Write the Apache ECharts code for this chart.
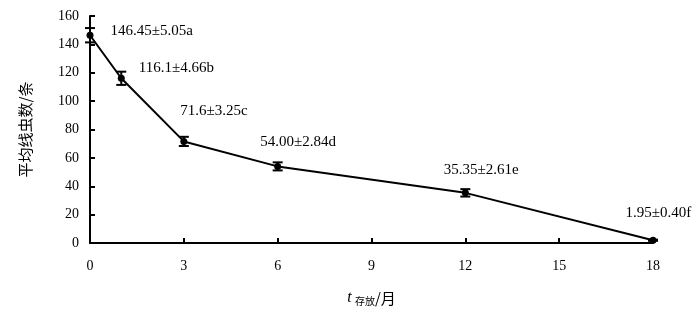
<!DOCTYPE html>
<html>
<head>
<meta charset="utf-8">
<script src="https://cdn.jsdelivr.net/npm/echarts@6/dist/echarts.min.js"></script>
<style>html,body{margin:0;padding:0;background:#fff}#c{width:700px;height:314px}</style>
</head>
<body>
<div id="c"></div>
<script>
var months = [0, 1, 3, 6, 12, 18];
var means = [146.45, 116.1, 71.6, 54.00, 35.35, 1.95];
var sds = [5.05, 4.66, 3.25, 2.84, 2.61, 0.40];
var letters = ['a', 'b', 'c', 'd', 'e', 'f'];
var meanText = ['146.45', '116.1', '71.6', '54.00', '35.35', '1.95'];
var sdText = ['5.05', '4.66', '3.25', '2.84', '2.61', '0.40'];
var xTicks = [0, 3, 6, 9, 12, 15, 18];
var yTicks = [0, 20, 40, 60, 80, 100, 120, 140, 160];

// label offsets (styling only)
var labelOffsets = [[17, -4], [14, -10], [-7, -30], [-21, -24], [-25, -23], [-31, -27]];

var font = '"Liberation Serif", "Times New Roman", serif';
var chart = echarts.init(document.getElementById('c'));

var lineData = months.map(function (m, i) {
  return {
    value: [m, means[i]],
    label: {
      show: true,
      formatter: meanText[i] + '±' + sdText[i] + letters[i],
      position: 'right',
      distance: 0,
      offset: labelOffsets[i]
    }
  };
});
var errData = months.map(function (m, i) { return [m, means[i] - sds[i], means[i] + sds[i]]; });

chart.setOption({
  animation: false,
  grid: { left: 90, right: 47, top: 16, bottom: 71 },
  xAxis: {
    type: 'value', min: 0, max: 18, interval: 3,
    axisLine: { show: true, lineStyle: { color: '#000', width: 2 } },
    axisTick: { show: true, inside: true, length: 5, lineStyle: { color: '#000', width: 2 } },
    axisLabel: { color: '#000', fontFamily: font, fontSize: 14, margin: 16 },
    splitLine: { show: false },
    name: '{t|t} {s|存放}{n|/月}',
    nameLocation: 'middle',
    nameGap: 47,
    nameTextStyle: {
      rich: {
        t: { fontFamily: font, fontStyle: 'italic', fontSize: 16, color: '#000' },
        s: { fontFamily: '"Noto Sans CJK SC", serif', fontSize: 10, color: '#000', padding: [6, 0, 0, 0] },
        n: { fontFamily: '"Noto Sans CJK SC", serif', fontSize: 15, color: '#000' }
      }
    }
  },
  yAxis: {
    type: 'value', min: 0, max: 160, interval: 20,
    axisLine: { show: true, lineStyle: { color: '#000', width: 2 } },
    axisTick: { show: true, inside: true, length: 5, lineStyle: { color: '#000', width: 2 } },
    axisLabel: { color: '#000', fontFamily: font, fontSize: 14, margin: 11 },
    splitLine: { show: false },
    name: '平均线虫数/条',
    nameLocation: 'middle',
    nameGap: 57,
    nameTextStyle: { color: '#000', fontFamily: '"Noto Sans CJK SC", serif', fontSize: 15 }
  },
  series: [
    {
      type: 'line',
      data: lineData,
      symbol: 'circle',
      symbolSize: 7,
      itemStyle: { color: '#000' },
      lineStyle: { color: '#000', width: 2 },
      label: { color: '#000', fontFamily: font, fontSize: 15 },
      z: 3
    },
    {
      type: 'custom',
      data: errData,
      z: 4,
      renderItem: function (params, api) {
        var x = api.value(0);
        var lo = api.coord([x, api.value(1)]);
        var hi = api.coord([x, api.value(2)]);
        var w = 5;
        var st = { stroke: '#000', lineWidth: 2 };
        return {
          type: 'group',
          children: [
            { type: 'line', shape: { x1: lo[0], y1: lo[1], x2: hi[0], y2: hi[1] }, style: st },
            { type: 'line', shape: { x1: lo[0] - w, y1: lo[1], x2: lo[0] + w, y2: lo[1] }, style: st },
            { type: 'line', shape: { x1: hi[0] - w, y1: hi[1], x2: hi[0] + w, y2: hi[1] }, style: st }
          ]
        };
      }
    }
  ]
});
</script>
</body>
</html>
